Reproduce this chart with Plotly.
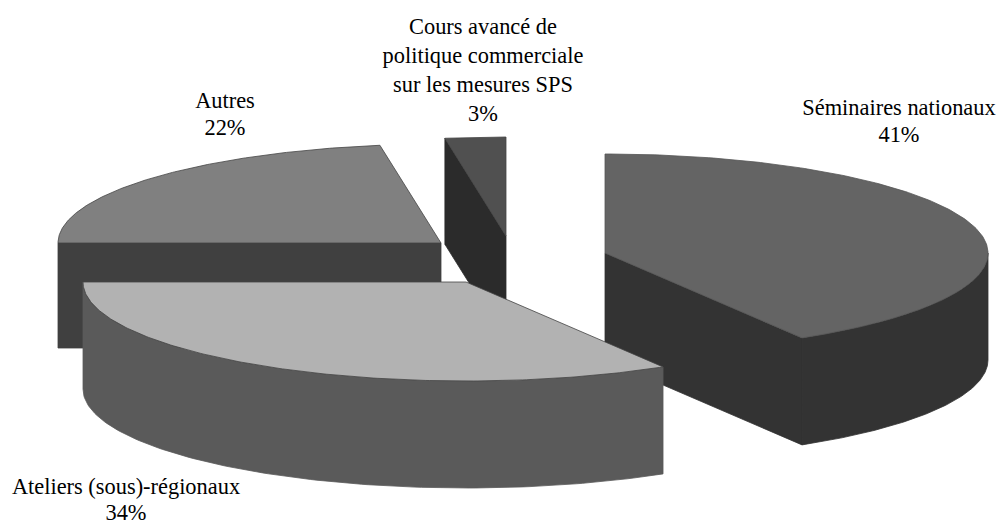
import numpy as np
import plotly.graph_objects as go

# --- data ---
categories = ["Séminaires nationaux", "Ateliers (sous)-régionaux", "Autres",
              "Cours avancé de\npolitique commerciale\nsur les mesures SPS"]
shares = [41.4, 33.6, 22.45, 2.55]

# --- styling / layout ---
top_colors = ["#646464", "#b2b2b2", "#808080", "#505050"]
side_colors = ["#333333", "#5a5a5a", "#404040", "#2b2b2b"]
outline_colors = ["#555555", "#444444", "#444444", "#444444"]
centers = [(605, 253), (466, 282), (441, 243), (506, 236)]   # exploded slice apexes (pixels)
depths = [107, 107, 105, 106]
draw_order = [3, 2, 0, 1]
RX, RY = 383, 99
label_anchor = [(899, 109), (126, 488), (225, 102), (483, 28)]  # first line centre
label_line_step = [27, 26, 27, 29]
FONT = dict(family="Liberation Serif, Times New Roman, serif", size=22.4, color="#000000")


def point(c, t):
    return c[0] + RX * np.sin(t), c[1] - RY * np.cos(t)


fig = go.Figure()


def add_poly(xs, ys, fill, line):
    fig.add_trace(go.Scatter(x=xs, y=ys, mode="lines", fill="toself", fillcolor=fill,
                             line=dict(color=line, width=0.8), hoverinfo="skip",
                             showlegend=False))


edges = np.radians(np.concatenate([[0], np.cumsum(shares)]) / sum(shares) * 360)

for i in draw_order:
    a, b, c, d = edges[i], edges[i + 1], centers[i], depths[i]
    # radial cut faces that look towards the viewer
    for t, visible in ((a, np.sin(a) < -1e-6), (b, np.sin(b) > 1e-6)):
        if visible:
            px, py = point(c, t)
            add_poly([c[0], px, px, c[0], c[0]],
                     [c[1], py, py + d, c[1] + d, c[1]],
                     side_colors[i], side_colors[i])
    # outer rim (front half of the cylinder only)
    lo, hi = max(a, np.pi / 2), min(b, 3 * np.pi / 2)
    if hi > lo:
        t = np.linspace(lo, hi, 120)
        px, py = point(c, t)
        add_poly(np.concatenate([px, px[::-1], px[:1]]),
                 np.concatenate([py, py[::-1] + d, py[:1]]),
                 side_colors[i], side_colors[i])
    # top face
    t = np.linspace(a, b, 200)
    px, py = point(c, t)
    add_poly(np.concatenate([[c[0]], px, [c[0]]]),
             np.concatenate([[c[1]], py, [c[1]]]),
             top_colors[i], outline_colors[i])

for i, name in enumerate(categories):
    lines = name.split("\n") + [f"{round(shares[i])}%"]
    x0, y0 = label_anchor[i]
    fig.add_trace(go.Scatter(
        x=[x0] * len(lines),
        y=[y0 + k * label_line_step[i] for k in range(len(lines))],
        text=lines, mode="text", textposition="middle center", textfont=FONT,
        hoverinfo="skip", showlegend=False, cliponaxis=False,
    ))

fig.update_layout(
    width=997, height=524, margin=dict(l=0, r=0, t=0, b=0),
    paper_bgcolor="white", plot_bgcolor="white", showlegend=False,
    xaxis=dict(range=[0, 997], visible=False, fixedrange=True),
    yaxis=dict(range=[524, 0], visible=False, fixedrange=True),
)
fig.write_html("out.html", post_script="document.body.style.margin='0';", config={"displayModeBar": False})
